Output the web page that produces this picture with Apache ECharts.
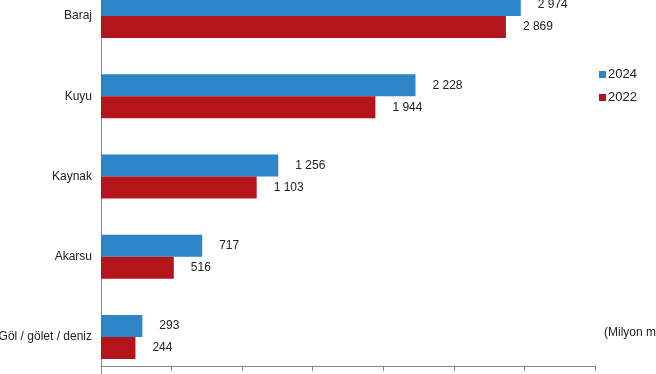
<!DOCTYPE html>
<html><head><meta charset="utf-8">
<script src="https://cdn.jsdelivr.net/npm/echarts@6/dist/echarts.min.js"></script>
<style>html,body{margin:0;padding:0;background:#fff}#c{width:656px;height:374px}</style>
</head><body><div id="c"></div>
<script>
var categories = ['Baraj', 'Kuyu', 'Kaynak', 'Akarsu', 'Göl / gölet / deniz'];
var values2024 = [2974, 2228, 1256, 717, 293];
var values2022 = [2869, 1944, 1103, 516, 244];
var seriesNames = ['2024', '2022'];
var xTicks = { min: 0, max: 3500, interval: 500 };
var unitText = '(Milyon m³)';

function fmt(v){ return String(v).replace(/\B(?=(\d{3})+(?!\d))/g, ' '); }

var chart = echarts.init(document.getElementById('c'));
var labelCfg = { show: true, position: 'right', distance: 17, color: '#222', fontSize: 12,
  fontFamily: 'Liberation Sans', formatter: function(p){ return fmt(p.value); } };
chart.setOption({
  animation: false,
  textStyle: { fontFamily: 'Liberation Sans' },
  grid: { left: 101, right: 61, top: -24, bottom: -3, containLabel: false, outerBoundsMode: 'none' },
  legend: { orient: 'vertical', left: 594, top: 63, itemWidth: 7, itemHeight: 7, itemGap: 10,
    icon: 'rect', textStyle: { fontSize: 13, color: '#222', padding: [0,0,0,-3] }, data: seriesNames },
  xAxis: { type: 'value', min: xTicks.min, max: xTicks.max, interval: xTicks.interval, offset: -11,
    axisLine: { show: true, lineStyle: { color: '#888' } },
    axisTick: { show: true, length: 5, lineStyle: { color: '#888' } },
    axisLabel: { color: '#222', fontSize: 12, margin: 8, formatter: function(v){ return fmt(v); } },
    splitLine: { show: false } },
  yAxis: { type: 'category', inverse: true, data: categories,
    axisLine: { show: true, lineStyle: { color: '#888' } },
    axisTick: { show: false },
    axisLabel: { color: '#222', fontSize: 12, margin: 9, padding: [4,0,0,0] } },
  graphic: [{ type: 'text', left: 604, top: 327, style: { text: unitText, fontSize: 12, fill: '#222', fontFamily: 'Liberation Sans' } }],
  series: [
    { name: seriesNames[0], type: 'bar', data: values2024, barWidth: 22, barGap: '0%',
      itemStyle: { color: '#2D84C7' }, label: labelCfg },
    { name: seriesNames[1], type: 'bar', data: values2022, barWidth: 22, barGap: '0%',
      itemStyle: { color: '#B3151B' }, label: labelCfg }
  ]
});
</script></body></html>
